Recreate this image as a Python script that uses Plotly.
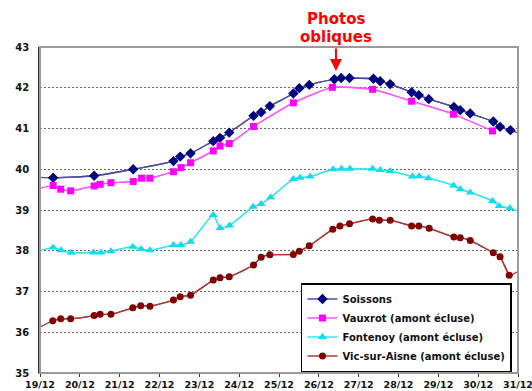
import plotly.graph_objects as go

# Day-of-December tick positions and labels
tick_days = list(range(19, 32))
tick_labels = [f"{d}/12" for d in tick_days]

# Soissons (first and last entries are line ends without a marker)
soissons_t = [19.0, 19.33, 20.36, 21.34, 22.35, 22.52, 22.78, 23.35, 23.52, 23.75,
              24.36, 24.55, 24.77, 25.36, 25.51, 25.76, 26.39, 26.56, 26.77, 27.37,
              27.54, 27.79, 28.33, 28.51, 28.76, 29.39, 29.55, 29.80, 30.38, 30.55,
              30.81, 31.0]
soissons_v = [39.80, 39.79, 39.84, 40.00, 40.20, 40.31, 40.39, 40.69, 40.77, 40.90,
              41.31, 41.40, 41.55, 41.86, 41.99, 42.07, 42.21, 42.24, 42.24, 42.22,
              42.16, 42.09, 41.89, 41.82, 41.72, 41.53, 41.45, 41.37, 41.17, 41.04,
              40.96, 40.89]

# Vauxrot (first entry is a line start without a marker)
vauxrot_t = [19.0, 19.33, 19.52, 19.77, 20.36, 20.51, 20.78, 21.34, 21.55, 21.76,
             22.35, 22.54, 22.78, 23.35, 23.52, 23.75, 24.36, 25.36, 26.34, 27.35,
             28.33, 29.38, 30.36]
vauxrot_v = [39.53, 39.60, 39.51, 39.47, 39.59, 39.63, 39.67, 39.70, 39.78, 39.78,
             39.94, 40.04, 40.16, 40.45, 40.57, 40.63, 41.05, 41.63, 42.01, 41.96,
             41.67, 41.35, 40.94]

# Fontenoy (first and last entries are line ends without a marker)
fontenoy_t = [19.0, 19.33, 19.53, 19.78, 20.34, 20.53, 20.78, 21.33, 21.54, 21.76,
              22.35, 22.54, 22.78, 23.35, 23.52, 23.76, 24.35, 24.55, 24.79, 25.36,
              25.53, 25.78, 26.36, 26.57, 26.78, 27.35, 27.54, 27.79, 28.35, 28.52,
              28.75, 29.38, 29.55, 29.80, 30.36, 30.53, 30.80, 31.0]
fontenoy_v = [38.00, 38.08, 38.01, 37.95, 37.96, 37.96, 37.99, 38.10, 38.04, 38.01,
              38.14, 38.14, 38.22, 38.88, 38.56, 38.62, 39.08, 39.15, 39.31, 39.76,
              39.79, 39.82, 40.00, 40.01, 40.01, 40.01, 39.98, 39.96, 39.82, 39.83,
              39.78, 39.60, 39.51, 39.43, 39.22, 39.10, 39.04, 38.98]

# Vic-sur-Aisne (first and last entries are line ends without a marker)
vic_t = [19.0, 19.32, 19.52, 19.77, 20.36, 20.51, 20.78, 21.33, 21.53, 21.76,
         22.35, 22.52, 22.78, 23.35, 23.52, 23.75, 24.36, 24.55, 24.77, 25.36,
         25.51, 25.76, 26.35, 26.53, 26.77, 27.35, 27.52, 27.79, 28.33, 28.51,
         28.77, 29.39, 29.55, 29.80, 30.38, 30.55, 30.78, 31.0]
vic_v = [36.13, 36.28, 36.33, 36.33, 36.41, 36.44, 36.44, 36.60, 36.65, 36.64,
         36.79, 36.87, 36.91, 37.28, 37.34, 37.36, 37.65, 37.84, 37.90, 37.91,
         37.99, 38.12, 38.53, 38.61, 38.66, 38.78, 38.75, 38.75, 38.61, 38.61,
         38.55, 38.34, 38.32, 38.25, 37.95, 37.85, 37.40, 37.49]

photo_day = 26.43
photo_level = 42.41

series = [
    # name, t, v, marked slice, line colour, marker colour, symbol, size
    ("Soissons", soissons_t, soissons_v, slice(1, -1), "#4c4ca0", "#000080", "diamond", 8),
    ("Vauxrot (amont écluse)", vauxrot_t, vauxrot_v, slice(1, None), "#ff55ff", "#ff00ff", "square", 7),
    ("Fontenoy (amont écluse)", fontenoy_t, fontenoy_v, slice(1, -1), "#33e6f2", "#10dcf0", "triangle-up", 8),
    ("Vic-sur-Aisne (amont écluse)", vic_t, vic_v, slice(1, -1), "#a83a3a", "#800000", "circle", 7),
]

fig = go.Figure()
for name, t, v, sl, lc, mc, sym, sz in series:
    fig.add_trace(go.Scatter(
        x=t, y=v, mode="lines", showlegend=False, hoverinfo="skip",
        line=dict(color=lc, width=1.3, shape="spline", smoothing=0.5),
    ))
    fig.add_trace(go.Scatter(
        x=t[sl], y=v[sl], mode="lines+markers", name=name,
        line=dict(color=lc, width=1.3, shape="spline", smoothing=0.5),
        marker=dict(color=mc, symbol=sym, size=sz, line=dict(width=0)),
    ))

# Plot frame
fig.add_shape(type="rect", xref="paper", yref="paper", x0=0, y0=0, x1=1, y1=1,
              line=dict(color="#9a9a9a", width=2), layer="above")

# Arrow pointing at the date of the oblique photos
fig.add_annotation(x=photo_day, y=photo_level, xref="x", yref="y", text="",
                   showarrow=True, ax=0, ay=-24, arrowhead=2, arrowsize=1.2,
                   arrowwidth=2, arrowcolor="#ff0000")
title_font = dict(family="DejaVu Sans", size=15, color="#ff0000", weight="bold")
fig.add_annotation(x=photo_day, y=1.0, xref="x", yref="paper", yanchor="middle",
                   yshift=28, text="Photos", showarrow=False, font=title_font)
fig.add_annotation(x=photo_day, y=1.0, xref="x", yref="paper", yanchor="middle",
                   yshift=10, text="obliques", showarrow=False, font=title_font)

tick_font = dict(family="DejaVu Sans", size=9.5, color="#111111", weight="bold")

fig.update_layout(
    width=532, height=391,
    margin=dict(l=40, r=14, t=47, b=18, autoexpand=False),
    paper_bgcolor="white", plot_bgcolor="white",
    xaxis=dict(
        range=[19, 31], tickmode="array", tickvals=tick_days, ticktext=tick_labels,
        showgrid=False, zeroline=False, showline=True, linecolor="#9a9a9a", linewidth=1,
        ticks="outside", ticklen=3, tickcolor="#333333", tickfont=tick_font,
        ticklabeloverflow="allow", automargin=False,
    ),
    yaxis=dict(
        range=[35, 43], dtick=1, tick0=35, automargin=False,
        showgrid=True, gridcolor="#666666", griddash="2px,2px", gridwidth=1.3,
        zeroline=False, showline=True, linecolor="#333333", linewidth=1.5,
        ticks="outside", ticklen=7, tickcolor="rgba(0,0,0,0)",
        tickfont=dict(family="DejaVu Sans", size=10, color="#111111", weight="bold"),
    ),
    legend=dict(
        x=0.546, y=0.003, xanchor="left", yanchor="bottom",
        bgcolor="white", bordercolor="#000000", borderwidth=1.5,
        font=dict(family="DejaVu Sans", size=10, color="#111111", weight="bold"),
        tracegroupgap=0, itemwidth=30,
    ),
)

fig.write_html("out.html")
